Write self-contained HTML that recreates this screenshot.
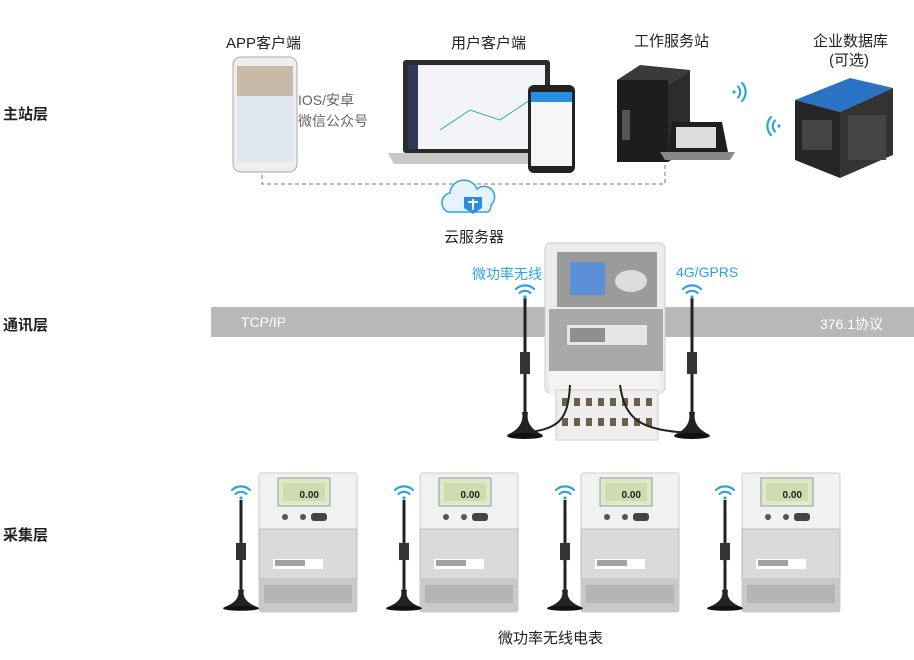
<!DOCTYPE html>
<html><head><meta charset="utf-8"><style>
body{margin:0;width:914px;height:660px;background:#fff;overflow:hidden;position:relative;font-family:"Liberation Sans","Noto Sans CJK SC",sans-serif}
.t{position:absolute;white-space:nowrap;font-size:14px;color:#222}
.b{font-weight:bold;font-size:15px;color:#222}
</style></head><body>
<svg width="914" height="660" style="position:absolute;left:0;top:0">
<defs>
<g id="wifi" fill="none" stroke="#2aa3e8" stroke-width="2.2" stroke-linecap="round">
<path d="M-9,-4 A13,13 0 0 1 9,-4"/><path d="M-5.5,0 A8,8 0 0 1 5.5,0"/><circle cx="0" cy="4" r="1.6" fill="#2aa3e8" stroke="none"/>
</g>
<g id="ant">
<rect x="-1.5" y="0" width="3" height="55" fill="#222"/>
<rect x="-5" y="55" width="10" height="22" fill="#333"/>
<rect x="-1.5" y="77" width="3" height="40" fill="#222"/>
<path d="M-3,115 Q0,130 -18,138 L18,138 Q0,130 3,115Z" fill="#222"/>
<ellipse cx="0" cy="139" rx="18" ry="3" fill="#111"/>
</g>
<g id="meter">
<rect x="0" y="0" width="98" height="139" rx="3" fill="#f0f1f1" stroke="#ccc"/>
<rect x="19" y="5" width="52" height="28" fill="#dfe8c8" stroke="#999"/>
<rect x="24" y="10" width="42" height="18" fill="#cfdcb0"/>
<text x="60" y="25" font-size="10" text-anchor="end" font-family="Liberation Sans" fill="#222" font-weight="bold">0.00</text>
<circle cx="26" cy="44" r="3" fill="#555"/><circle cx="44" cy="44" r="3" fill="#555"/>
<rect x="52" y="40" width="16" height="8" rx="3" fill="#444"/>
<rect x="0" y="56" width="98" height="50" fill="#dadada" stroke="#bbb"/>
<rect x="14" y="86" width="50" height="10" fill="#fff"/>
<rect x="16" y="87" width="30" height="6" fill="#444" opacity=".5"/>
<rect x="0" y="106" width="98" height="33" fill="#c9c9c9"/>
<rect x="5" y="112" width="88" height="18" fill="#b5b5b5"/>
</g>
</defs>
<rect x="211" y="307" width="703" height="30" fill="#b8b8b8"/>
<path d="M262,168 V184 H665 V165" fill="none" stroke="#777" stroke-dasharray="4,3"/>
<rect x="233" y="57" width="64" height="115" rx="8" fill="#eee" stroke="#aaa"/>
<rect x="237" y="66" width="56" height="96" fill="#dfe7ee"/>
<rect x="237" y="66" width="56" height="30" fill="#c9b9a8"/>
<rect x="403" y="60" width="147" height="93" rx="3" fill="#2b2b2b"/>
<rect x="408" y="65" width="137" height="84" fill="#f2f4f7"/>
<rect x="408" y="65" width="10" height="84" fill="#2d3a55"/>
<path d="M440,130 L470,110 L500,120 L530,100" stroke="#3aa" fill="none"/>
<path d="M388,153 H566 L560,164 H394Z" fill="#c8c8c8"/>
<rect x="528" y="85" width="47" height="88" rx="6" fill="#222"/>
<rect x="531" y="92" width="41" height="74" fill="#f4f6f8"/>
<rect x="531" y="92" width="41" height="10" fill="#2a8fe0"/>
<path d="M617,80 L640,65 L690,70 L668,85Z" fill="#3a3a3a"/>
<rect x="617" y="80" width="51" height="82" fill="#1d1d1d"/>
<path d="M668,85 L690,70 V148 L668,162Z" fill="#2c2c2c"/>
<rect x="622" y="110" width="8" height="30" fill="#555"/>
<path d="M672,122 H722 L728,152 H668Z" fill="#1f1f1f"/>
<rect x="676" y="127" width="40" height="21" fill="#ddd"/>
<path d="M660,152 H735 L730,160 H665Z" fill="#888"/>
<use href="#wifi" transform="translate(738,92) rotate(90)"/>
<path d="M795,100 L850,78 L893,88 L840,112Z" fill="#2a73c4"/>
<path d="M795,100 L840,112 V178 L795,160Z" fill="#262626"/>
<path d="M840,112 L893,88 V155 L840,178Z" fill="#333"/>
<rect x="802" y="120" width="30" height="30" fill="#444"/>
<rect x="848" y="115" width="38" height="45" fill="#444"/>
<use href="#wifi" transform="translate(775,126) rotate(-90)"/>
<path d="M448,212 a10,10 0 0 1 2,-19 a14,14 0 0 1 27,-4 a10,10 0 0 1 14,16 a8,8 0 0 1 -3,7Z" fill="#e6f3fc" stroke="#2aa3e8" stroke-width="1.5"/>
<path d="M464,197 H482 V208 L473,214 L464,208Z" fill="#2a8fe0"/>
<rect x="472" y="199" width="2" height="11" fill="#fff"/><rect x="468" y="201" width="10" height="2" fill="#fff"/>
<!-- concentrator -->
<rect x="545" y="243" width="120" height="150" rx="6" fill="#ececec" stroke="#ccc"/>
<rect x="557" y="252" width="100" height="55" fill="#9b9b9b"/>
<rect x="570" y="262" width="35" height="33" fill="#5b8fd8"/>
<ellipse cx="631" cy="281" rx="16" ry="11" fill="#ddd"/>
<rect x="549" y="309" width="114" height="62" fill="#a9a9a9"/>
<rect x="567" y="325" width="80" height="20" fill="#e5e5e5"/>
<rect x="570" y="328" width="35" height="14" fill="#555" opacity=".6"/>
<rect x="550" y="371" width="110" height="25" fill="#f4f4f4"/>
<rect x="556" y="390" width="102" height="50" fill="#eeeeee" stroke="#ccc"/>
<g fill="#6b5f4e">
<rect x="562" y="398" width="6" height="8"/><rect x="574" y="398" width="6" height="8"/><rect x="586" y="398" width="6" height="8"/><rect x="598" y="398" width="6" height="8"/><rect x="610" y="398" width="6" height="8"/><rect x="622" y="398" width="6" height="8"/><rect x="634" y="398" width="6" height="8"/><rect x="646" y="398" width="6" height="8"/>
<rect x="562" y="418" width="6" height="8"/><rect x="574" y="418" width="6" height="8"/><rect x="586" y="418" width="6" height="8"/><rect x="598" y="418" width="6" height="8"/><rect x="610" y="418" width="6" height="8"/><rect x="622" y="418" width="6" height="8"/><rect x="634" y="418" width="6" height="8"/><rect x="646" y="418" width="6" height="8"/>
</g>
<path d="M570,385 C568,420 560,430 520,433 M620,385 C625,420 640,430 690,433" stroke="#222" stroke-width="2" fill="none"/>
<use href="#ant" transform="translate(525,297)"/>
<use href="#ant" transform="translate(692,297)"/>
<use href="#wifi" transform="translate(525,293)"/>
<use href="#wifi" transform="translate(692,293)"/>
<use href="#meter" x="259" y="473"/>
<use href="#meter" x="420" y="473"/>
<use href="#meter" x="581" y="473"/>
<use href="#meter" x="742" y="473"/>
<g transform="translate(241,500) scale(1,0.78)"><use href="#ant"/></g>
<g transform="translate(404,500) scale(1,0.78)"><use href="#ant"/></g>
<g transform="translate(565,500) scale(1,0.78)"><use href="#ant"/></g>
<g transform="translate(725,500) scale(1,0.78)"><use href="#ant"/></g>
<use href="#wifi" transform="translate(241,494)"/>
<use href="#wifi" transform="translate(404,494)"/>
<use href="#wifi" transform="translate(565,494)"/>
<use href="#wifi" transform="translate(725,494)"/>
</svg>
<div class="t b" style="left:3px;top:103px">主站层</div>
<div class="t b" style="left:3px;top:314px">通讯层</div>
<div class="t b" style="left:3px;top:524px">采集层</div>
<div class="t" style="left:226px;top:32px;font-size:15px">APP客户端</div>
<div class="t" style="left:298px;top:90px;color:#666">IOS/安卓</div>
<div class="t" style="left:298px;top:111px;color:#666">微信公众号</div>
<div class="t" style="left:451px;top:32px;font-size:15px">用户客户端</div>
<div class="t" style="left:634px;top:30px;font-size:15px">工作服务站</div>
<div class="t" style="left:813px;top:30px;font-size:15px">企业数据库</div>
<div class="t" style="left:829px;top:49px;font-size:15px">(可选)</div>
<div class="t" style="left:444px;top:226px;font-size:15px">云服务器</div>
<div class="t" style="left:472px;top:264px;color:#2aa3e8">微功率无线</div>
<div class="t" style="left:676px;top:264px;color:#2aa3e8">4G/GPRS</div>
<div class="t" style="left:241px;top:314px;color:#fff;font-size:14px">TCP/IP</div>
<div class="t" style="left:820px;top:314px;color:#fff;font-size:14px">376.1协议</div>
<div class="t" style="left:498px;top:627px;font-size:15px">微功率无线电表</div>
</body></html>
